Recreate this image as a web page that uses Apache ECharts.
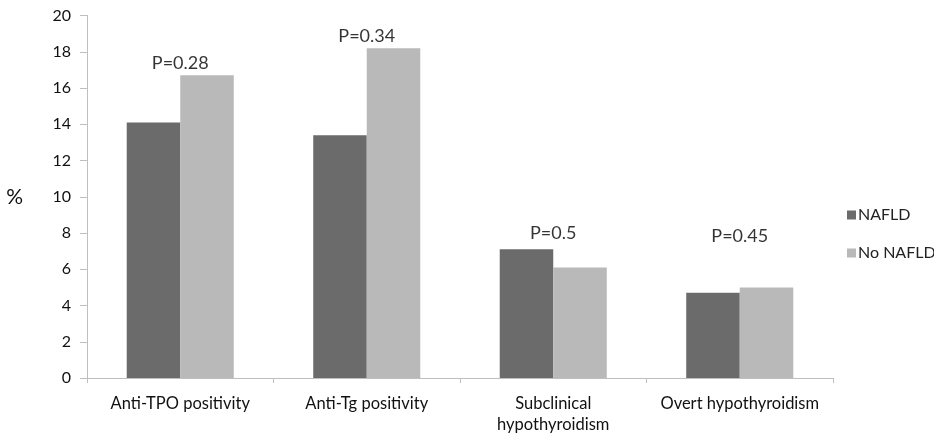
<!DOCTYPE html>
<html><head><meta charset="utf-8">
<script src="https://cdn.jsdelivr.net/npm/echarts@6/dist/echarts.min.js"></script>
<style>html,body{margin:0;padding:0;background:#fff}#c{width:934px;height:438px}</style>
</head><body><div id="c"></div>
<script>
const categories = ['Anti-TPO positivity', 'Anti-Tg positivity', 'Subclinical\nhypothyroidism', 'Overt hypothyroidism'];
const nafld = [14.1, 13.4, 7.1, 4.7];
const noNafld = [16.7, 18.2, 6.1, 5.0];
const pLabels = ['P=0.28', 'P=0.34', 'P=0.5', 'P=0.45'];
const pLabelLevels = [17.35, 18.85, 8.0, 7.8];
const yTicks = [0, 20, 2];

const font = 'Lato';
const chart = echarts.init(document.getElementById('c'));
chart.setOption({
  animation: false,
  textStyle: {fontFamily: font},
  grid: {left: 87, right: 101, top: 15.5, bottom: 60, containLabel: false},
  legend: {
    orient: 'vertical', left: 842, top: 202, itemGap: 22,
    itemWidth: 9, itemHeight: 9, icon: 'rect',
    textStyle: {fontFamily: font, fontSize: 16, color: '#222', padding: [0,0,0,-3]},
    data: ['NAFLD', 'No NAFLD']
  },
  xAxis: {
    type: 'category', data: categories,
    axisLine: {lineStyle: {color: '#bfbfbf', width: 1}},
    axisTick: {show: true, length: 5, alignWithLabel: false, lineStyle: {color: '#bfbfbf'}},
    axisLabel: {fontFamily: font, fontSize: 16.5, color: '#111', margin: 15, lineHeight: 21, interval: 0}
  },
  yAxis: {
    type: 'value', min: yTicks[0], max: yTicks[1], interval: yTicks[2],
    name: '%', nameLocation: 'middle', nameRotate: 0, nameGap: 64,
    nameTextStyle: {fontFamily: font, fontSize: 21, color: '#111'},
    splitLine: {show: false},
    axisLine: {show: true, lineStyle: {color: '#bfbfbf', width: 1}},
    axisTick: {show: true, length: 7, lineStyle: {color: '#bfbfbf'}},
    axisLabel: {fontFamily: font, fontSize: 16, color: '#111', margin: 16}
  },
  series: [
    {name: 'NAFLD', type: 'bar', data: nafld, barGap: '0%', barCategoryGap: '42.6%',
     itemStyle: {color: '#6b6b6b'}},
    {name: 'No NAFLD', type: 'bar', data: noNafld, barGap: '0%', barCategoryGap: '42.6%',
     itemStyle: {color: '#b9b9b9'}},
    {type: 'scatter', data: pLabelLevels.map((v, i) => [i, v]), symbolSize: 0, silent: true,
     label: {show: true, position: 'inside', formatter: p => pLabels[p.dataIndex],
             fontFamily: font, fontSize: 18, color: '#000'}}
  ]
});
</script></body></html>
